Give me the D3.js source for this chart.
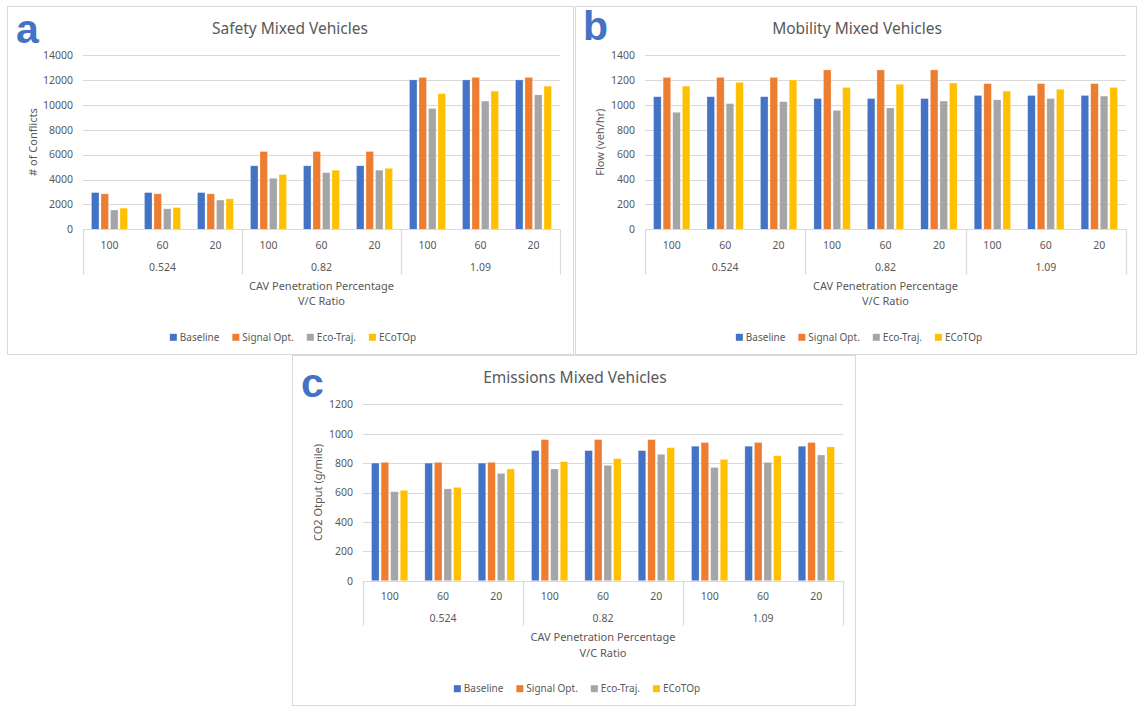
<!DOCTYPE html>
<html>
<head>
<meta charset="utf-8">
<script src="https://cdn.jsdelivr.net/npm/d3@7"></script>
<style>
  html, body { margin: 0; padding: 0; background: #ffffff; }
  svg { display: block; }
  text { font-family: "Noto Sans", "Open Sans", sans-serif; fill: #595959; }
</style>
</head>
<body>
<svg id="chart" width="1137" height="706"></svg>
<script>
// Category levels shared by the three charts
const vcRatios = ["0.524", "0.82", "1.09"];
const penetration = ["100", "60", "20"];
const seriesNames = ["Baseline", "Signal Opt.", "Eco-Traj.", "ECoTOp"];
const seriesColors = ["#4472C4", "#ED7D31", "#A5A5A5", "#FFC000"];

// Safety: number of conflicts
const safetyBaseline = [2950, 2950, 2950, 5100, 5100, 5100, 12000, 12000, 12000];
const safetySignalOpt = [2850, 2850, 2850, 6250, 6250, 6250, 12200, 12200, 12200];
const safetyEcoTraj = [1550, 1650, 2350, 4100, 4550, 4750, 9700, 10300, 10800];
const safetyEcotop = [1700, 1750, 2450, 4400, 4750, 4900, 10900, 11100, 11500];
const safetyTicks = [0, 2000, 4000, 6000, 8000, 10000, 12000, 14000];

// Mobility: flow (veh/hr)
const mobilityBaseline = [1065, 1065, 1065, 1050, 1050, 1050, 1075, 1075, 1075];
const mobilitySignalOpt = [1220, 1220, 1220, 1280, 1280, 1280, 1170, 1170, 1170];
const mobilityEcoTraj = [940, 1010, 1025, 955, 975, 1030, 1040, 1050, 1070];
const mobilityEcotop = [1150, 1180, 1200, 1140, 1165, 1175, 1110, 1125, 1140];
const mobilityTicks = [0, 200, 400, 600, 800, 1000, 1200, 1400];

// Emissions: CO2 output (g/mile)
const emissionsBaseline = [800, 800, 800, 885, 885, 885, 915, 915, 915];
const emissionsSignalOpt = [805, 805, 805, 960, 960, 960, 940, 940, 940];
const emissionsEcoTraj = [605, 625, 730, 760, 785, 860, 770, 805, 855];
const emissionsEcotop = [615, 635, 760, 810, 830, 905, 825, 850, 910];
const emissionsTicks = [0, 200, 400, 600, 800, 1000, 1200];

const svg = d3.select("#chart");
const gridColor = "#d9d9d9";

// Leaf categories: every (V/C ratio, penetration) pair
const leaves = [];
vcRatios.forEach(r => penetration.forEach(p => leaves.push({ key: r + "|" + p, ratio: r, pen: p })));

function drawPanel(cfg) {
  const g = svg.append("g");

  // panel frame
  g.append("rect")
    .attr("x", cfg.frame.x + 0.5).attr("y", cfg.frame.y + 0.5)
    .attr("width", cfg.frame.w - 1).attr("height", cfg.frame.h - 1)
    .attr("fill", "#ffffff").attr("stroke", gridColor).attr("stroke-width", 1);

  const x = d3.scaleBand().domain(leaves.map(d => d.key))
    .range([cfg.plotLeft, cfg.plotRight]).paddingInner(0).paddingOuter(0);
  const bw = x.bandwidth();
  const xs = d3.scaleBand().domain(seriesNames)
    .range([bw * 0.16, bw * 0.84]).paddingInner(0.21);
  const y = d3.scaleLinear().domain([0, cfg.ticks[cfg.ticks.length - 1]])
    .range([cfg.zeroY, cfg.topY]);

  // horizontal gridlines
  g.append("g").selectAll("line").data(cfg.ticks.filter(t => t > 0)).join("line")
    .attr("x1", cfg.plotLeft).attr("x2", cfg.plotRight)
    .attr("y1", d => Math.round(y(d)) + 0.5).attr("y2", d => Math.round(y(d)) + 0.5)
    .attr("stroke", gridColor).attr("stroke-width", 1.2);

  // value axis labels
  const yAxis = d3.axisLeft(y).tickValues(cfg.ticks).tickSize(0).tickPadding(10)
    .tickFormat(d3.format("d"));
  const ya = g.append("g").attr("transform", `translate(${cfg.plotLeft},0)`).call(yAxis);
  ya.select(".domain").remove();
  ya.selectAll("text").style("font-size", "10.5px").attr("fill", "#595959")
    .style("font-family", "'Noto Sans', sans-serif");

  // bars
  const bars = g.append("g");
  cfg.series.forEach((vals, si) => {
    bars.append("g").selectAll("rect").data(vals).join("rect")
      .attr("x", (d, i) => x(leaves[i].key) + xs(seriesNames[si]))
      .attr("width", xs.bandwidth())
      .attr("y", d => y(d))
      .attr("height", d => y(0) - y(d))
      .attr("fill", seriesColors[si])
      .attr("stroke", "#ffffff").attr("stroke-opacity", 0.45).attr("stroke-width", 0.6);
  });

  // category axis baseline
  g.append("line")
    .attr("x1", cfg.plotLeft).attr("x2", cfg.plotRight)
    .attr("y1", Math.round(cfg.zeroY) + 0.5).attr("y2", Math.round(cfg.zeroY) + 0.5)
    .attr("stroke", gridColor).attr("stroke-width", 1.2);

  // inner level: penetration labels
  const xAxis = d3.axisBottom(x).tickSize(0).tickPadding(0)
    .tickFormat(k => k.split("|")[1]);
  const xa = g.append("g").attr("transform", `translate(0,${cfg.zeroY + 16})`).call(xAxis);
  xa.select(".domain").remove();
  xa.selectAll("text").attr("dy", "0.35em").attr("y", 0)
    .style("font-size", "10.5px").attr("fill", "#595959")
    .style("font-family", "'Noto Sans', sans-serif");

  // outer level: V/C ratio labels and group separators
  const groupW = (cfg.plotRight - cfg.plotLeft) / vcRatios.length;
  const outer = d3.scaleBand().domain(vcRatios).range([cfg.plotLeft, cfg.plotRight]);
  g.append("g").selectAll("line").data(d3.range(vcRatios.length + 1)).join("line")
    .attr("x1", i => Math.round(cfg.plotLeft + i * groupW) + 0.5)
    .attr("x2", i => Math.round(cfg.plotLeft + i * groupW) + 0.5)
    .attr("y1", cfg.zeroY).attr("y2", cfg.zeroY + 45)
    .attr("stroke", gridColor).attr("stroke-width", 1.2);
  g.append("g").selectAll("text").data(vcRatios).join("text")
    .attr("x", d => outer(d) + outer.bandwidth() / 2)
    .attr("y", cfg.zeroY + 38).attr("dy", "0.35em")
    .attr("text-anchor", "middle").style("font-size", "10.5px")
    .text(d => d);

  // chart title
  g.append("text").attr("x", cfg.titleX).attr("y", cfg.titleY).attr("dy", "0.35em")
    .attr("text-anchor", "middle").style("font-size", "15.5px").text(cfg.title);

  // panel letter
  g.append("text").attr("x", cfg.letterX).attr("y", cfg.letterY)
    .style("font-family", "'Liberation Sans', Arial, sans-serif")
    .style("font-weight", "bold").style("font-size", "41px")
    .style("fill", "#4472C4").text(cfg.letter);

  // value axis title
  const midY = (cfg.zeroY + cfg.topY) / 2;
  g.append("text").attr("transform", `translate(${cfg.yTitleX},${midY}) rotate(-90)`)
    .attr("text-anchor", "middle").attr("dy", "0.35em")
    .style("font-size", "11px").text(cfg.yTitle);

  // category axis title (two lines)
  const midX = (cfg.plotLeft + cfg.plotRight) / 2;
  ["CAV Penetration Percentage", "V/C Ratio"].forEach((t, i) => {
    g.append("text").attr("x", midX).attr("y", cfg.zeroY + 56.5 + i * 15.5)
      .attr("dy", "0.35em").attr("text-anchor", "middle")
      .style("font-size", "11px").text(t);
  });

  // legend
  const lg = g.append("g");
  let cursor = 0;
  const items = seriesNames.map((name, i) => {
    const item = lg.append("g");
    item.append("rect").attr("x", 0).attr("y", -3.5).attr("width", 7).attr("height", 7)
      .attr("fill", seriesColors[i]);
    const t = item.append("text").attr("x", 10).attr("dy", "0.35em")
      .style("font-size", "10px").text(name);
    const w = 10 + t.node().getComputedTextLength();
    item.attr("transform", `translate(${cursor},0)`);
    cursor += w + 13;
    return item;
  });
  const totalW = cursor - 13;
  lg.attr("transform", `translate(${cfg.legendX - totalW / 2},${cfg.zeroY + 108})`);
}

drawPanel({
  frame: { x: 7, y: 6, w: 567, h: 349 },
  plotLeft: 83, plotRight: 560, zeroY: 229.3, topY: 55,
  ticks: safetyTicks,
  series: [safetyBaseline, safetySignalOpt, safetyEcoTraj, safetyEcotop],
  title: "Safety Mixed Vehicles", titleX: 290, titleY: 29,
  letter: "a", letterX: 16, letterY: 43,
  yTitle: "# of Conflicts", yTitleX: 33,
  legendX: 293
});

drawPanel({
  frame: { x: 575, y: 6, w: 562, h: 349 },
  plotLeft: 645, plotRight: 1126, zeroY: 229.3, topY: 55,
  ticks: mobilityTicks,
  series: [mobilityBaseline, mobilitySignalOpt, mobilityEcoTraj, mobilityEcotop],
  title: "Mobility Mixed Vehicles", titleX: 857, titleY: 29,
  letter: "b", letterX: 583, letterY: 40,
  yTitle: "Flow (veh/hr)", yTitleX: 600,
  legendX: 859
});

drawPanel({
  frame: { x: 292, y: 355, w: 564, h: 351 },
  plotLeft: 363, plotRight: 843, zeroY: 580.7, topY: 404.3,
  ticks: emissionsTicks,
  series: [emissionsBaseline, emissionsSignalOpt, emissionsEcoTraj, emissionsEcotop],
  title: "Emissions Mixed Vehicles", titleX: 575, titleY: 378,
  letter: "c", letterX: 301, letterY: 397,
  yTitle: "CO2 Otput (g/mile)", yTitleX: 318,
  legendX: 577
});
</script>
</body>
</html>
